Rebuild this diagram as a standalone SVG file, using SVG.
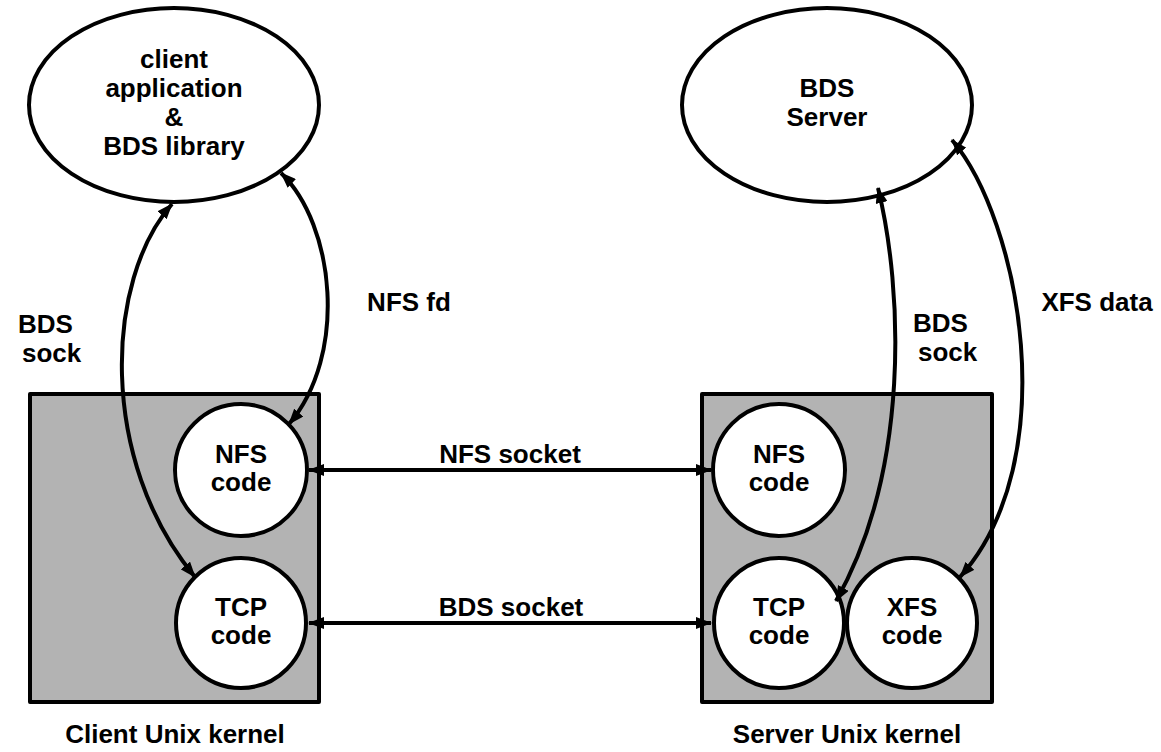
<svg xmlns="http://www.w3.org/2000/svg" width="1161" height="752" viewBox="0 0 1161 752">
<defs>
<style>
.shape{fill:#fff;stroke:#000;stroke-width:4}
.box{fill:#b3b3b3;stroke:#000;stroke-width:4;stroke-linejoin:round}
.conn{fill:none;stroke:#000;stroke-width:4;marker-start:url(#arr);marker-end:url(#arr)}
text{font-family:"Liberation Sans",Arial,Helvetica,sans-serif;font-weight:bold;font-size:26px;fill:#000}
.c{text-anchor:middle}
</style>
<marker id="arr" viewBox="0 0 16 12" markerWidth="16" markerHeight="12" refX="15" refY="6" markerUnits="userSpaceOnUse" orient="auto-start-reverse">
<path d="M0,0 L16,6 L0,12 z" fill="#000"/>
</marker>
</defs>
<rect width="1161" height="752" fill="#fff"/>

<g id="client-kernel">
<rect class="box" x="30" y="394" width="289" height="308"/>
<text class="c" x="175" y="743">Client Unix kernel</text>
</g>
<g id="server-kernel">
<rect class="box" x="702" y="394" width="290" height="308"/>
<text class="c" x="847" y="743">Server Unix kernel</text>
</g>

<g id="client-app">
<ellipse class="shape" cx="174" cy="105" rx="145" ry="97"/>
<text class="c" x="174" y="68">client</text>
<text class="c" x="174" y="97">application</text>
<text class="c" x="174" y="126">&amp;</text>
<text class="c" x="174" y="155">BDS library</text>
</g>
<g id="bds-server">
<ellipse class="shape" cx="827" cy="105" rx="145" ry="97"/>
<text class="c" x="827" y="97">BDS</text>
<text class="c" x="827" y="126">Server</text>
</g>

<g id="client-nfs">
<circle class="shape" cx="241" cy="470" r="66"/>
<text class="c" x="241" y="463">NFS</text>
<text class="c" x="241" y="491">code</text>
</g>
<g id="client-tcp">
<circle class="shape" cx="241" cy="623" r="65"/>
<text class="c" x="241" y="616">TCP</text>
<text class="c" x="241" y="644">code</text>
</g>
<g id="server-nfs">
<circle class="shape" cx="779" cy="470" r="66"/>
<text class="c" x="779" y="463">NFS</text>
<text class="c" x="779" y="491">code</text>
</g>
<g id="server-tcp">
<circle class="shape" cx="779" cy="623" r="65"/>
<text class="c" x="779" y="616">TCP</text>
<text class="c" x="779" y="644">code</text>
</g>
<g id="server-xfs">
<circle class="shape" cx="912" cy="623" r="65"/>
<text class="c" x="912" y="616">XFS</text>
<text class="c" x="912" y="644">code</text>
</g>

<g id="connectors">
<path class="conn" d="M309,470 L711,470"/>
<path class="conn" d="M309,623 L711,623"/>
<path class="conn" d="M172,204 C105,280 98,460 195,577"/>
<path class="conn" d="M281,173 C335,225 348,355 289,424"/>
<path class="conn" d="M878,188 C903,290 910,470 836,601"/>
<path class="conn" d="M952,140 C1020,220 1065,460 960,577"/>
</g>

<g id="labels">
<text class="c" x="510" y="463">NFS socket</text>
<text class="c" x="511" y="616">BDS socket</text>
<text x="18" y="333">BDS</text>
<text x="22" y="362">sock</text>
<text class="c" x="409" y="311">NFS fd</text>
<text x="913" y="332">BDS</text>
<text x="918" y="361">sock</text>
<text class="c" x="1097" y="311">XFS data</text>
</g>
</svg>
